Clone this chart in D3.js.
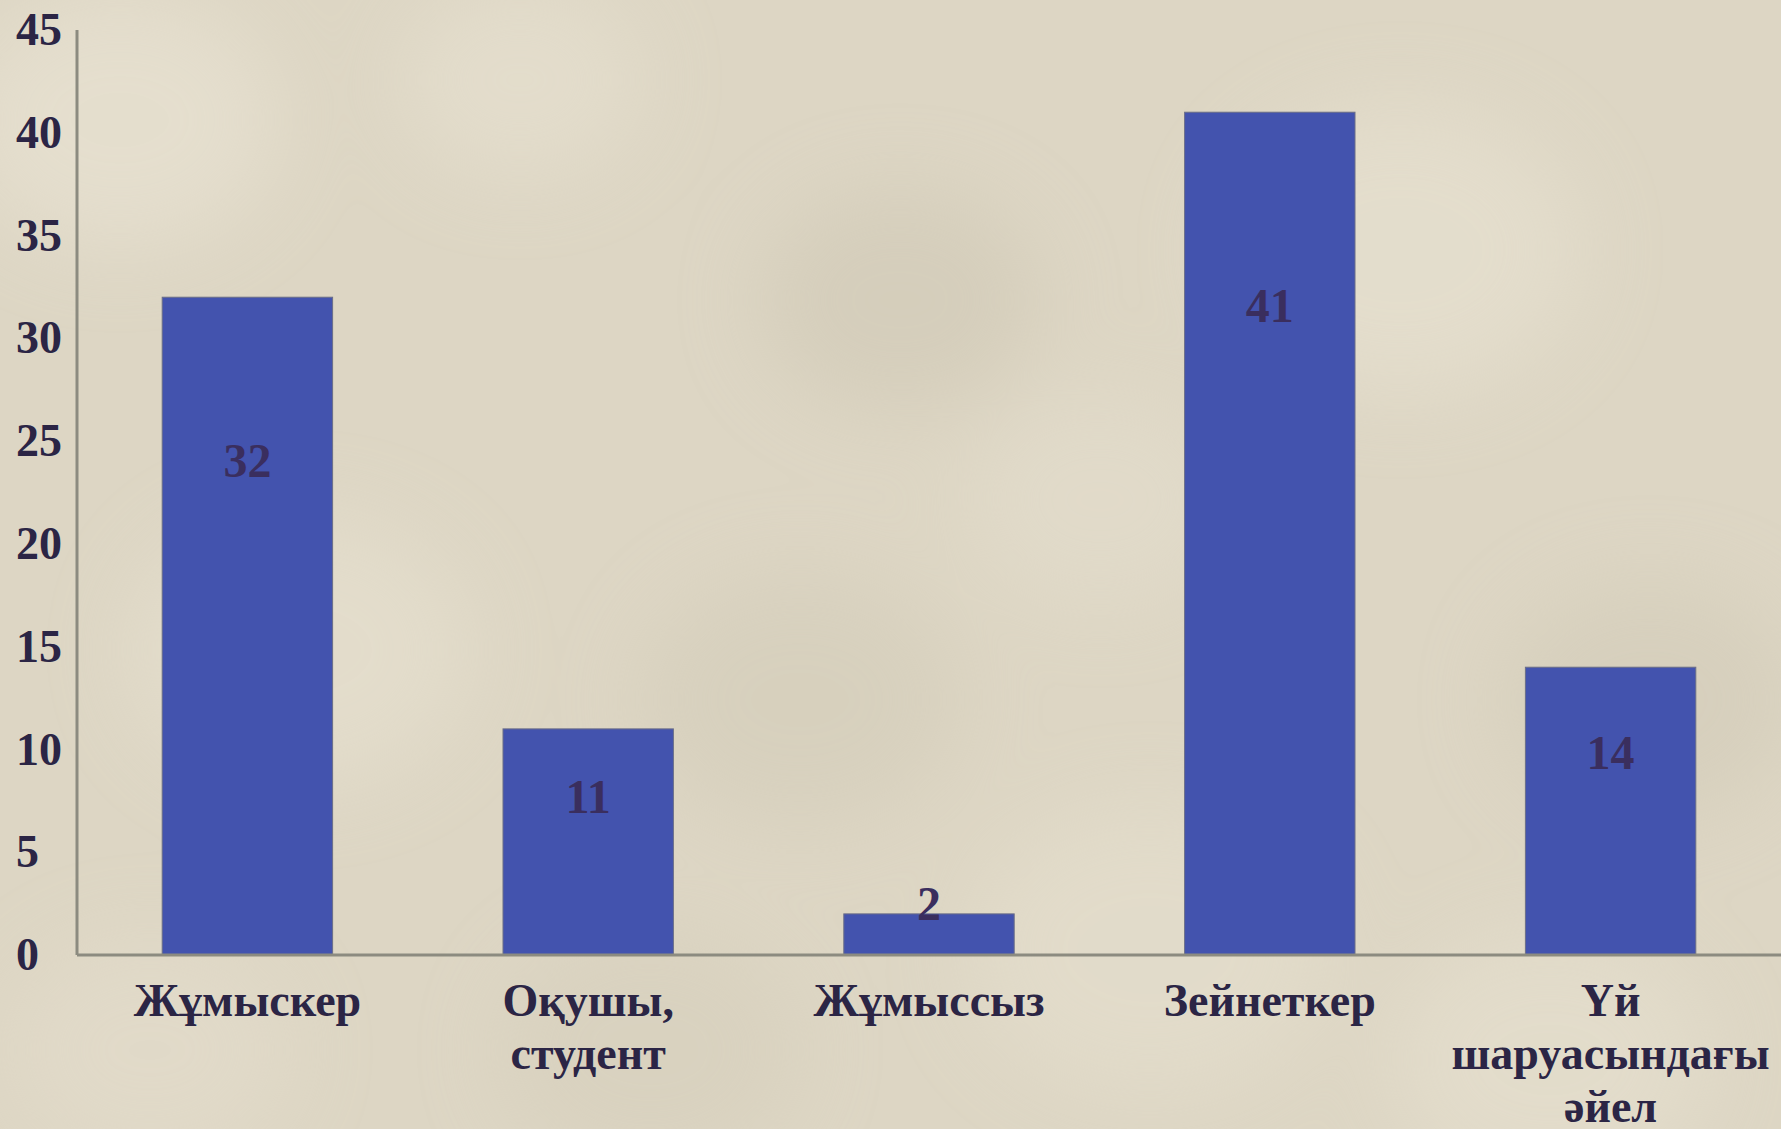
<!DOCTYPE html>
<html lang="kk">
<head>
<meta charset="UTF-8">
<title>Bar chart</title>
<script src="https://d3js.org/d3.v7.min.js"></script>
<style>
  html, body { margin: 0; padding: 0; background: #ddd6c4; overflow: hidden; }
  svg { display: block; }
  text { font-family: "Liberation Serif", "DejaVu Serif", serif; font-weight: bold; }
</style>
</head>
<body>
<script>
// data
var categories = [["Жұмыскер"], ["Оқушы,", "студент"], ["Жұмыссыз"], ["Зейнеткер"], ["Үй", "шаруасындағы", "әйел"]];
var values = [32, 11, 2, 41, 14];
var yTicks = [0, 5, 10, 15, 20, 25, 30, 35, 40, 45];

var W = 1781, H = 1129;
var plotLeft = 77, plotRight = 1781, plotTop = 30, plotBase = 955;

var svg = d3.select("body").append("svg")
    .attr("width", W)
    .attr("height", H);

// background, soft mottled paper
var defs = svg.append("defs");
defs.append("filter").attr("id", "blur")
    .append("feGaussianBlur").attr("stdDeviation", 40);
svg.append("rect").attr("width", W).attr("height", H).attr("fill", "#ddd6c4");
var blobs = svg.append("g").attr("filter", "url(#blur)").attr("opacity", 0.55);
[[120, 120, 160, "#ebe5d6"], [520, 80, 120, "#e8e2d2"], [900, 300, 140, "#cfc8b5"],
 [1400, 250, 180, "#e9e3d3"], [1650, 700, 150, "#d2cbb8"], [300, 650, 170, "#e8e2d1"],
 [800, 700, 160, "#d3ccb9"], [1150, 950, 180, "#e6e0cf"], [150, 1050, 140, "#e4ddcc"],
 [650, 1050, 150, "#d6cfbc"], [1550, 1060, 160, "#e7e1d0"], [1100, 500, 130, "#e4dece"]]
  .forEach(function(b) {
    blobs.append("ellipse").attr("cx", b[0]).attr("cy", b[1])
      .attr("rx", b[2]).attr("ry", b[2] * 0.8).attr("fill", b[3]);
  });

var x = d3.scaleBand()
    .domain(d3.range(values.length))
    .range([plotLeft, plotRight])
    .paddingInner(0.5)
    .paddingOuter(0.25);

var y = d3.scaleLinear()
    .domain([0, 45])
    .range([plotBase, plotTop]);

var ink = "#2b2545";

// bars
svg.selectAll("rect.bar")
  .data(values)
  .enter()
  .append("rect")
  .attr("class", "bar")
  .attr("x", function(d, i) { return x(i); })
  .attr("y", function(d) { return y(d); })
  .attr("width", x.bandwidth())
  .attr("height", function(d) { return y(0) - y(d); })
  .attr("fill", "#4353ae")
  .attr("stroke", "#6a6e88")
  .attr("stroke-width", 1);

// value labels, placed down inside the bar
svg.selectAll("text.val")
  .data(values)
  .enter()
  .append("text")
  .attr("class", "val")
  .attr("x", function(d, i) { return x(i) + x.bandwidth() / 2; })
  .attr("y", function(d) {
    var h = y(0) - y(d);
    return y(d) + 9 * Math.sqrt(h) - 68;
  })
  .attr("dy", "0.35em")
  .attr("text-anchor", "middle")
  .attr("font-size", 48)
  .attr("fill", "#3a2e5e")
  .text(function(d) { return d; });

// axes lines
svg.append("line")
  .attr("x1", plotLeft).attr("x2", plotLeft)
  .attr("y1", y(45)).attr("y2", y(0))
  .attr("stroke", "#8c8b80").attr("stroke-width", 3);
svg.append("line")
  .attr("x1", plotLeft).attr("x2", plotRight)
  .attr("y1", y(0)).attr("y2", y(0))
  .attr("stroke", "#8c8b80").attr("stroke-width", 3);

// y tick labels
svg.selectAll("text.ytick")
  .data(yTicks)
  .enter()
  .append("text")
  .attr("class", "ytick")
  .attr("x", 16)
  .attr("y", function(d) { return y(d) - 1; })
  .attr("dy", "0.35em")
  .attr("font-size", 46)
  .attr("fill", ink)
  .text(function(d) { return d; });

// category labels
var cat = svg.selectAll("text.cat")
  .data(categories)
  .enter()
  .append("text")
  .attr("class", "cat")
  .attr("text-anchor", "middle")
  .attr("font-size", 46)
  .attr("fill", ink);

cat.selectAll("tspan")
  .data(function(d, i) { return d.map(function(s) { return { s: s, i: i }; }); })
  .enter()
  .append("tspan")
  .attr("x", function(d) { return x(d.i) + x.bandwidth() / 2; })
  .attr("y", function(d, j) { return 1000 + j * 53; })
  .attr("dy", "0.35em")
  .text(function(d) { return d.s; });
</script>
</body>
</html>
